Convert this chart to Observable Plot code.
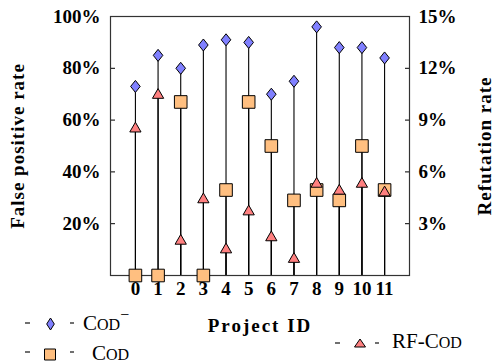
<!DOCTYPE html>
<html><head><meta charset="utf-8">
<script src="https://cdn.jsdelivr.net/npm/d3@7"></script>
<script src="https://cdn.jsdelivr.net/npm/@observablehq/plot@0.6"></script>
<style>
body{margin:0;background:#fff;}
#wrap{position:relative;width:494px;height:364px;overflow:hidden;}
#legend{position:absolute;left:0;top:0;pointer-events:none;}
</style></head><body><div id="wrap"></div>
<script>
const projects = [0,1,2,3,4,5,6,7,8,9,10,11];
const codMinusFPR = [73,85,80,89,91,90,70,75,96,88,88,84];
const codFPR = [0,0,67,0,33,67,50,29,33,29,50,33];
const rfCodRefutation = [8.5,10.45,2.0,4.4,1.5,3.7,2.2,0.95,5.3,4.9,5.3,4.8];
const leftTicks = [20,40,60,80,100];
const rightTicks = [3,6,9,12,15];
const rightMax = 15;
const colors = {diamond:"#8080ff", square:"#ffbf80", triangle:"#ff8080"};
const FONT = "Liberation Serif";

const rows = projects.map((p,i)=>({p, fpr: codMinusFPR[i], cod: codFPR[i], rf: rfCodRefutation[i]/rightMax*100}));

const diamondSym = {draw(ctx, size){const r=Math.sqrt(size/Math.PI);const w=r*0.8,h=r;ctx.moveTo(0,-h);ctx.lineTo(w,0);ctx.lineTo(0,h);ctx.lineTo(-w,0);ctx.closePath();}};
const squareSym = {draw(ctx, size){const r=Math.sqrt(size/Math.PI);ctx.moveTo(-r,-r);ctx.lineTo(r,-r);ctx.lineTo(r,r);ctx.lineTo(-r,r);ctx.closePath();}};
const triSym = {draw(ctx, size){const r=Math.sqrt(size/Math.PI);ctx.moveTo(0,-r);ctx.lineTo(0.866*r,r/2);ctx.lineTo(-0.866*r,r/2);ctx.closePath();}};

const chart = Plot.plot({
  width:494, height:364,
  marginLeft:110, marginRight:85, marginTop:16, marginBottom:89,
  style:{fontWeight:"bold", fontSize:"19px", color:"#000", background:"transparent", overflow:"visible"},
  x:{domain:[-1.1,12.1]},
  y:{domain:[0,100]},
  marks:[
    Plot.ruleX(rows, {x:"p", y1:0, y2:"fpr", stroke:"#000", strokeWidth:1.1}),
    Plot.ruleX(rows, {x:"p", y1:0, y2:"cod", stroke:"#000", strokeWidth:1.1}),
    Plot.ruleX(rows, {x:"p", y1:0, y2:"rf", stroke:"#000", strokeWidth:1.1}),
    Plot.axisX({ticks:projects, tickFormat:d=>String(d), tickSize:0, tickPadding:6, fontFamily:FONT, label:"Project ID", labelAnchor:"center", labelOffset:56, labelArrow:"none"}),
    Plot.axisY({anchor:"left", ticks:leftTicks, tickFormat:d=>d+"%", tickSize:-5, tickPadding:15, fontFamily:FONT, label:"False positive rate", labelAnchor:"center", labelOffset:100, labelArrow:"none"}),
    Plot.axisY({anchor:"right", ticks:rightTicks.map(t=>t/rightMax*100), tickFormat:d=>Math.round(d*rightMax/100)+"%", tickSize:-5, tickPadding:14, fontFamily:FONT, label:"Refutation rate", labelAnchor:"center", labelOffset:81, labelArrow:"none"}),
    Plot.frame({stroke:"#333", strokeWidth:1.2}),
    Plot.dot(rows, {x:"p", y:"fpr", symbol:diamondSym, r:6, fill:colors.diamond, stroke:"#000", strokeWidth:1}),
    Plot.dot(rows, {x:"p", y:"cod", symbol:squareSym, r:6.3, fill:colors.square, stroke:"#000", strokeWidth:1}),
    Plot.dot(rows, {x:"p", y:"rf", symbol:triSym, r:6.5, fill:colors.triangle, stroke:"#000", strokeWidth:1})
  ]
});
chart.setAttribute("font-family", FONT);
chart.style.fontFamily = FONT;
document.getElementById("wrap").appendChild(chart);
d3.select(chart).selectAll("g[aria-label*='axis'], text").attr("font-family", FONT).style("font-family", FONT);
d3.select(chart).selectAll('g[aria-label="y-axis label"] text').style("letter-spacing","1px");
d3.select(chart).selectAll('g[aria-label="x-axis label"] text').style("letter-spacing","2px");

// legend overlay
const lg = d3.select("#wrap").append("svg").attr("id","legend").attr("width",494).attr("height",364)
  .attr("font-family",FONT).attr("font-size",21);
function dash(x1,x2,y){lg.append("line").attr("x1",x1).attr("x2",x2).attr("y1",y).attr("y2",y).attr("stroke","#222").attr("stroke-width",1.3);}
function codText(x,y,prefix,sup){
  const t=lg.append("text").attr("x",x).attr("y",y).attr("fill","#000").attr("font-family",FONT).attr("font-size",21);
  if(prefix) t.append("tspan").text(prefix);
  t.append("tspan").text("C");
  t.append("tspan").attr("font-size",16).text("OD");
  if(sup) t.append("tspan").attr("font-size",16).attr("dy",-10).text(sup);
}
// Cod−
dash(25,30,323);
lg.append("path").attr("d","M50.5,318 L54.3,324 L50.5,330 L46.7,324Z").attr("fill",colors.diamond).attr("stroke","#000");
dash(70,74,323);
codText(83,330,"","−");
// Cod
dash(25,30,352);
lg.append("path").attr("d","M44.5,349 L55.5,349 L55.5,360 L44.5,360Z").attr("fill",colors.square).attr("stroke","#000");
dash(70,74,352);
codText(92,360,"",null);
// RF-Cod
dash(335,340,343);
lg.append("path").attr("d","M360,339 L365.5,347 L354.5,347Z").attr("fill",colors.triangle).attr("stroke","#000");
dash(375,379,343);
codText(392,348,"RF-",null);
</script></body></html>
